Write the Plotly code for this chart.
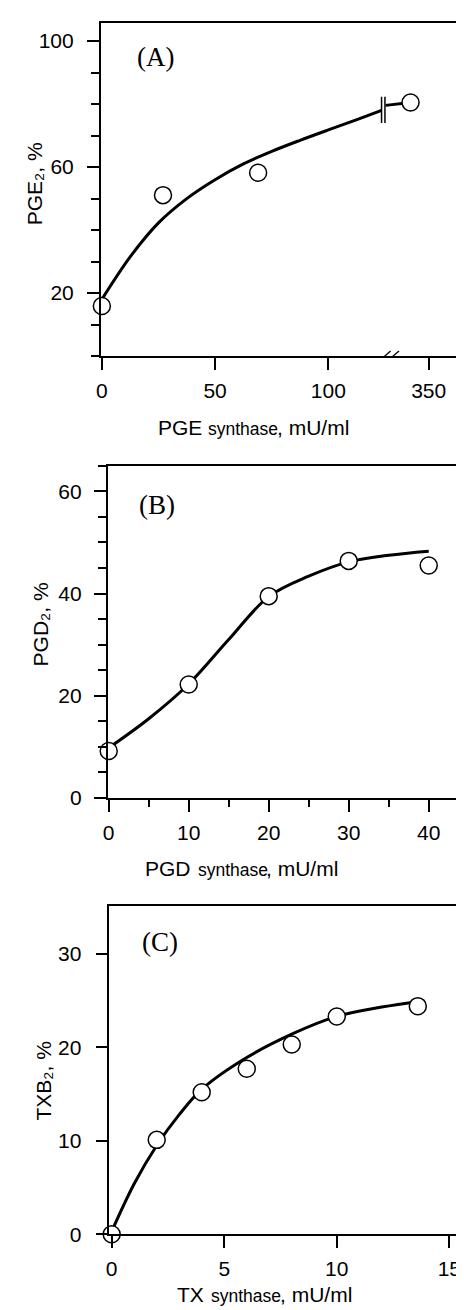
import plotly.graph_objects as go

W, H = 464, 1310
FONT = "Arial, Liberation Sans, sans-serif"

# panel A: PGE synthase (x axis is broken between 100 and 350)
A_pts_x = [0, 27, 69, 342]
A_pts_y = [15.9, 51.1, 58.2, 80.5]
A_curve_x = [0, 12.5, 25, 37.5, 50, 62.5, 75, 87.5, 100, 112, 123.5]
A_curve_y = [18, 31.5, 42.3, 50, 56, 61, 65, 68.5, 71.8, 74.9, 78]
A_tail_x = [331, 342]
A_tail_y = [79.6, 80.5]
A_ticks = [0, 50, 100, 350]

# panel B: PGD synthase
B_pts_x = [0, 10, 20, 30, 40]
B_pts_y = [9.2, 22.2, 39.5, 46.4, 45.5]
B_curve_x = [0, 5, 10, 15, 20, 25, 30, 35, 40]
B_curve_y = [9.8, 15.5, 22.3, 31.0, 39.4, 43.4, 46.2, 47.5, 48.3]

# panel C: TX synthase
C_pts_x = [0, 2, 4, 6, 8, 10, 13.6]
C_pts_y = [0, 10.1, 15.2, 17.7, 20.3, 23.3, 24.4]
C_curve_x = [0, 1, 2, 3, 4, 6, 8, 10, 12, 13.7]
C_curve_y = [0.3, 5.4, 9.5, 12.8, 15.5, 18.9, 21.4, 23.3, 24.3, 24.9]

# broken axis: values beyond the break are shifted so that 350 sits at POS350
POS350 = 144.3
BREAK = 127.3


def brk(v):
    return v if v <= BREAK else POS350 + (v - 350)


def px(x0, x1, y0, y1):
    return dict(x=[x0 / W, x1 / W], y=[1 - y1 / H, 1 - y0 / H])


fig = go.Figure()

line = dict(color="black", width=3)
marker = dict(symbol="circle", size=17, color="white", line=dict(color="black", width=1.5))

# A
fig.add_trace(go.Scatter(x=A_curve_x, y=A_curve_y, mode="lines", line_shape="spline",
                         line=line, xaxis="x", yaxis="y"))
fig.add_trace(go.Scatter(x=[brk(v) for v in A_tail_x], y=A_tail_y, mode="lines",
                         line=line, xaxis="x", yaxis="y"))
# break marks on the curve
for xb in [123.5, 125.0]:
    fig.add_trace(go.Scatter(x=[xb, xb], y=[74.0, 82.3], mode="lines",
                             line=dict(color="black", width=1.5), xaxis="x", yaxis="y"))
# break on the x axis
fig.add_trace(go.Scatter(x=[124.5, 130.0], y=[0, 0], mode="lines", cliponaxis=False,
                         line=dict(color="white", width=4), xaxis="x", yaxis="y"))
for xs in [122.5, 126.2]:
    fig.add_trace(go.Scatter(x=[xs, xs + 5.0], y=[-1.5, 1.6], mode="lines", cliponaxis=False,
                             line=dict(color="black", width=1.3), xaxis="x", yaxis="y"))
fig.add_trace(go.Scatter(x=[brk(v) for v in A_pts_x], y=A_pts_y, mode="markers",
                         marker=marker, cliponaxis=False, xaxis="x", yaxis="y"))

# B
fig.add_trace(go.Scatter(x=B_curve_x, y=B_curve_y, mode="lines", line_shape="spline",
                         line=line, xaxis="x2", yaxis="y2"))
fig.add_trace(go.Scatter(x=B_pts_x, y=B_pts_y, mode="markers", marker=marker,
                         cliponaxis=False, xaxis="x2", yaxis="y2"))

# C
fig.add_trace(go.Scatter(x=C_curve_x, y=C_curve_y, mode="lines", line_shape="spline",
                         line=line, xaxis="x3", yaxis="y3"))
fig.add_trace(go.Scatter(x=C_pts_x, y=C_pts_y, mode="markers", marker=marker,
                         cliponaxis=False, xaxis="x3", yaxis="y3"))

ax = dict(showline=True, linecolor="black", linewidth=1.8, mirror=True, showgrid=False,
          zeroline=False, ticks="outside", ticklen=12, tickwidth=1.5, tickcolor="black",
          tickfont=dict(family=FONT, size=21, color="black"), fixedrange=True)
mn = dict(ticks="outside", ticklen=8, tickwidth=1.5, tickcolor="black", showgrid=False)

dA, dB, dC = px(89, 453, 15, 351), px(96, 461.7, 461.7, 796.7), px(97.7, 463, 905.7, 1236.7)

fig.update_layout(
    width=W, height=H, margin=dict(l=0, r=0, t=0, b=0),
    paper_bgcolor="white", plot_bgcolor="white", showlegend=False,
    xaxis=dict(ax, domain=dA["x"], anchor="y", range=[-0.44, 158.2], tickmode="array",
               tickvals=[brk(v) for v in A_ticks], ticktext=[str(v) for v in A_ticks],
               ticklabelstandoff=3),
    yaxis=dict(ax, domain=dA["y"], anchor="x", range=[0, 105.8], tickmode="linear",
               tick0=20, dtick=40, minor=dict(mn, tick0=0, dtick=10), ticklabelstandoff=9),
    xaxis2=dict(ax, domain=dB["x"], anchor="y2", range=[-0.12, 45.0], tickmode="linear",
                tick0=0, dtick=10, minor=dict(mn, tick0=0, dtick=5, ticklen=7),
                ticklabelstandoff=3),
    yaxis2=dict(ax, domain=dB["y"], anchor="x2", range=[0, 65], tickmode="linear",
                tick0=0, dtick=20, minor=dict(mn, tick0=0, dtick=5), ticklabelstandoff=8),
    xaxis3=dict(ax, domain=dC["x"], anchor="y3", range=[-0.1, 15.92], tickmode="linear",
                tick0=0, dtick=5, ticklabelstandoff=3),
    yaxis3=dict(ax, domain=dC["y"], anchor="x3", range=[0, 35.1], tickmode="linear",
                tick0=0, dtick=10, ticklabelstandoff=10),
)


def note(text, x, y, size, family=FONT, angle=0, xanchor="center"):
    fig.add_annotation(text=text, x=x / W, y=1 - y / H, xref="paper", yref="paper",
                       showarrow=False, textangle=angle,
                       font=dict(family=family, size=size, color="black"),
                       xanchor=xanchor, yanchor="middle")


SERIF = "Times New Roman, Liberation Serif, serif"
note("(A)", 144, 49, 27, SERIF)
note("(B)", 146, 501, 27, SERIF)
note("(C)", 149, 942, 27, SERIF)

# x titles: the word "synthase" is set smaller, as in the original
for name, xr, y in [("PGE", 193, 423), ("PGD", 182, 868), ("TX", 196, 1297)]:
    note(name, xr, y, 21, xanchor="right")
    note("synthase", xr + 3, y + 1.5, 17.5, xanchor="left")
    note(", mU/ml", xr + 72, y, 21, xanchor="left")

note("PGE\u2082, %", 22, 177, 21, angle=-90)
note("PGD\u2082, %", 28, 622, 21, angle=-90)
note("TXB\u2082, %", 31, 1082, 21, angle=-90)

fig.write_html("out.html")
